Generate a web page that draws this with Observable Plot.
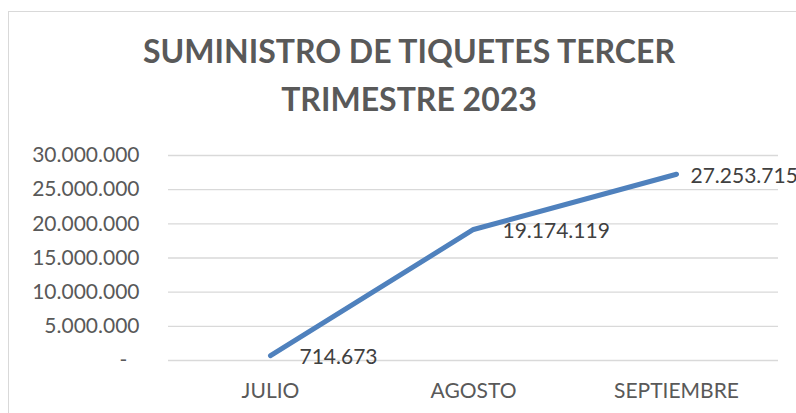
<!DOCTYPE html>
<html><head><meta charset="utf-8">
<script src="https://cdn.jsdelivr.net/npm/d3@7"></script>
<script src="https://cdn.jsdelivr.net/npm/@observablehq/plot@0.6"></script>
<style>
html,body{margin:0;padding:0;width:796px;height:413px;overflow:hidden;background:#fff;font-family:Lato,sans-serif;}
#frame{position:absolute;left:8px;top:11px;width:900px;height:500px;border:1px solid #d9d9d9;box-sizing:border-box;}
#title{position:absolute;left:0;top:27px;width:818px;text-align:center;font-family:Lato,sans-serif;font-weight:bold;font-size:32px;line-height:48px;color:#595959;}
#chart{position:absolute;left:0;top:140px;}
</style></head><body>
<div id="frame"></div>
<div id="title">SUMINISTRO DE TIQUETES TERCER<br>TRIMESTRE 2023</div>
<div id="chart"></div>
<script>
const months = ["JULIO", "AGOSTO", "SEPTIEMBRE"];
const tiquetes = [714673, 19174119, 27253715];
const yTicks = [0, 5000000, 10000000, 15000000, 20000000, 25000000, 30000000];

const locale = d3.formatLocale({decimal: ",", thousands: ".", grouping: [3], currency: ["$", ""]});
const fmt = locale.format(",d");
const yFmt = v => v === 0 ? "-\u2007" : fmt(v);

const data = months.map((m, i) => ({month: m, value: tiquetes[i], i}));

const chart = Plot.plot({
  width: 796,
  height: 273,
  marginLeft: 168,
  marginRight: 18,
  marginTop: 15,
  marginBottom: 53,
  style: {fontFamily: "Lato, sans-serif", fontSize: "21px", color: "#595959", background: "transparent", overflow: "visible"},
  x: {type: "point", domain: months, padding: 0.5, label: null, tickSize: 0, tickPadding: 23},
  y: {domain: [0, 30000000], ticks: yTicks, tickFormat: yFmt, label: null, tickSize: 0, tickPadding: 29},
  marks: [
    Plot.ruleY(yTicks, {stroke: "#d9d9d9", strokeWidth: 1.3}),
    Plot.line(data, {x: "month", y: "value", stroke: "#4F81BD", strokeWidth: 5, strokeLinecap: "round", strokeLinejoin: "round"}),
    Plot.text(data, {filter: d => d.i < 2, x: "month", y: "value", text: d => fmt(d.value), textAnchor: "start", lineAnchor: "middle", dx: 29, dy: 2, fontSize: 21, fill: "#404040"}),
    Plot.text(data, {filter: d => d.i >= 2, x: "month", y: "value", text: d => fmt(d.value), textAnchor: "start", lineAnchor: "middle", dx: 14, dy: 2, fontSize: 21, fill: "#404040"})
  ]
});
document.getElementById("chart").appendChild(chart);
</script>
</body></html>
